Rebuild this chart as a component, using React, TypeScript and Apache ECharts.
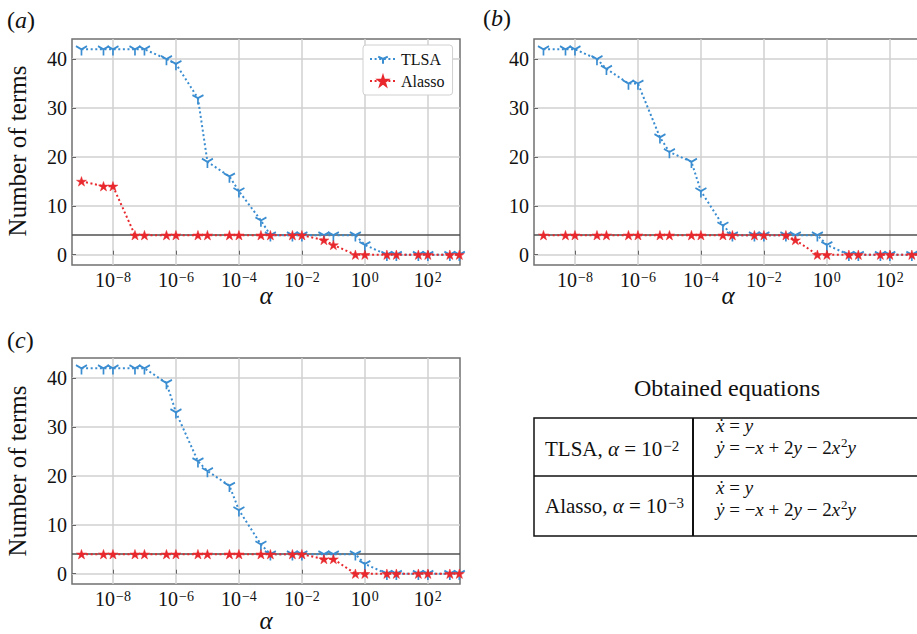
import React, { useEffect, useRef } from 'react';
import * as echarts from 'echarts';

// ---------------- data ----------------
const alphaValues = [
  1e-9, 5e-9, 1e-8, 5e-8, 1e-7, 5e-7, 1e-6, 5e-6, 1e-5, 5e-5, 1e-4, 5e-4, 1e-3,
  5e-3, 1e-2, 5e-2, 1e-1, 5e-1, 1, 5, 10, 50, 100, 500, 1000,
];
const tlsaA = [42, 42, 42, 42, 42, 40, 39, 32, 19, 16, 13, 7, 4, 4, 4, 4, 4, 4, 2, 0, 0, 0, 0, 0, 0];
const alassoA = [15, 14, 14, 4, 4, 4, 4, 4, 4, 4, 4, 4, 4, 4, 4, 3, 2, 0, 0, 0, 0, 0, 0, 0, 0];
const tlsaB = [42, 42, 42, 40, 38, 35, 35, 24, 21, 19, 13, 6, 4, 4, 4, 4, 4, 4, 2, 0, 0, 0, 0, 0, 0];
const alassoB = [4, 4, 4, 4, 4, 4, 4, 4, 4, 4, 4, 4, 4, 4, 4, 4, 3, 0, 0, 0, 0, 0, 0, 0, 0];
const tlsaC = [42, 42, 42, 42, 42, 39, 33, 23, 21, 18, 13, 6, 4, 4, 4, 4, 4, 4, 2, 0, 0, 0, 0, 0, 0];
const alassoC = [4, 4, 4, 4, 4, 4, 4, 4, 4, 4, 4, 4, 4, 4, 4, 3, 3, 0, 0, 0, 0, 0, 0, 0, 0];

const yTickValues = [0, 10, 20, 30, 40];
const xTickValues = [1e-8, 1e-6, 1e-4, 1e-2, 1, 100];
const referenceTerms = 4;
const seriesNames = ['TLSA', 'Alasso'];
const panelLetters = ['a', 'b', 'c'];
const yAxisTitle = 'Number of terms';
const xAxisTitle = 'α';
const tableTitle = 'Obtained equations';
const tableMethods = ['TLSA', 'Alasso'];
const tableExponents = ['−2', '−3'];

// ---------------- styles ----------------
const FONT = "'Liberation Serif', 'Times New Roman', serif";
const BLUE = '#3a8dd0';
const RED = '#e8282d';
const TRI = 'path://M0,-10 M0,0 L0,10 M0,0 L-8.66,-5 M0,0 L8.66,-5';
const STAR =
  'path://M0,-10 L2.245,-3.09 L9.511,-3.09 L3.633,1.18 L5.878,8.09 L0,3.82 L-5.878,8.09 L-3.633,1.18 L-9.511,-3.09 L-2.245,-3.09 Z';

const X_MIN = 5e-10;
const X_MAX = 1050;
const Y_MIN = -2.1;
const Y_MAX = 44.1;

const gridBoxes = [
  { left: 72, top: 39, width: 388, height: 226 },
  { left: 534, top: 39, width: 388, height: 226 },
  { left: 72, top: 358, width: 388, height: 226 },
];

function expLabel(v: number) {
  const e = Math.round(Math.log10(v));
  const s = e < 0 ? '−' + Math.abs(e) : String(e);
  return '10{sup|' + s + '}';
}

function makeXAxis(i: number) {
  return {
    type: 'log',
    logBase: 10,
    gridIndex: i,
    min: X_MIN,
    max: X_MAX,
    axisLine: { show: false },
    axisTick: {
      show: true,
      inside: true,
      length: 4,
      customValues: xTickValues,
      lineStyle: { color: '#666', width: 1 },
    },
    minorTick: { show: false },
    axisLabel: {
      customValues: xTickValues,
      formatter: expLabel,
      margin: 5,
      color: '#111',
      fontFamily: FONT,
      fontSize: 20,
      rich: {
        sup: { fontFamily: FONT, fontSize: 14, color: '#111', verticalAlign: 'top', padding: [0, 0, 4, 1] },
      },
    },
    splitLine: { show: true, lineStyle: { color: '#d0d0d0', width: 1.5 } },
  };
}

function makeYAxis(i: number) {
  return {
    type: 'value',
    gridIndex: i,
    min: Y_MIN,
    max: Y_MAX,
    axisLine: { show: false },
    axisTick: {
      show: true,
      inside: true,
      length: 4,
      customValues: yTickValues,
      lineStyle: { color: '#666', width: 1 },
    },
    axisLabel: {
      customValues: yTickValues,
      margin: 5,
      color: '#111',
      fontFamily: FONT,
      fontSize: 20,
    },
    splitLine: { show: true, lineStyle: { color: '#d0d0d0', width: 1.5 } },
  };
}

function makeSeries(i: number, tlsa: number[], alasso: number[]) {
  return [
    {
      type: 'line',
      name: seriesNames[0],
      xAxisIndex: i,
      yAxisIndex: i,
      data: alphaValues.map((a, k) => [a, tlsa[k]]),
      symbol: TRI,
      symbolSize: [11, 12.5],
      showSymbol: true,
      z: 3,
      emphasis: { disabled: true },
      itemStyle: { color: BLUE, borderColor: BLUE, borderWidth: 1.8 },
      lineStyle: { color: BLUE, width: 2, type: [2, 2.6] },
      markLine: {
        silent: true,
        symbol: 'none',
        z: 2,
        label: { show: false },
        lineStyle: { color: '#505050', width: 1.5, type: 'solid' },
        data: [{ yAxis: referenceTerms }],
      },
    },
    {
      type: 'line',
      name: seriesNames[1],
      xAxisIndex: i,
      yAxisIndex: i,
      data: alphaValues.map((a, k) => [a, alasso[k]]),
      symbol: STAR,
      symbolSize: [10, 9.5],
      showSymbol: true,
      z: 4,
      emphasis: { disabled: true },
      itemStyle: { color: RED, borderColor: RED, borderWidth: 0.5 },
      lineStyle: { color: RED, width: 2, type: [2, 2.6] },
    },
  ];
}

const richBase = (size: number, lh?: number) => ({
  n: { fontFamily: FONT, fontSize: size, fill: '#111', lineHeight: lh },
  i: { fontFamily: FONT, fontSize: size, fontStyle: 'italic', fill: '#111', lineHeight: lh },
  s: { fontFamily: FONT, fontSize: Math.round(size * 0.7), fill: '#111', verticalAlign: 'top', padding: [0, 0, 4, 1] },
});

function buildGraphics() {
  const g: any[] = [];
  const labelPos = [
    [7, 20],
    [483, 18],
    [7, 340],
  ];
  panelLetters.forEach((l, k) => {
    g.push({
      type: 'text',
      x: labelPos[k][0],
      y: labelPos[k][1],
      style: { text: '{n|(}{i|' + l + '}{n|)}', rich: richBase(24), align: 'left', verticalAlign: 'middle' },
    });
  });
  // y axis titles
  [
    [17, 151],
    [17, 471],
  ].forEach((p) => {
    g.push({
      type: 'text',
      x: p[0],
      y: p[1],
      rotation: Math.PI / 2,
      style: { text: yAxisTitle, font: '25px ' + FONT, fill: '#111', align: 'center', verticalAlign: 'middle' },
    });
  });
  // x axis titles
  [
    [266, 295],
    [728, 295],
    [266, 620],
  ].forEach((p) => {
    g.push({
      type: 'text',
      x: p[0],
      y: p[1],
      style: { text: xAxisTitle, font: 'italic 25px ' + FONT, fill: '#111', align: 'center', verticalAlign: 'middle' },
    });
  });
  // table
  g.push({
    type: 'text',
    x: 727,
    y: 388,
    style: { text: tableTitle, font: '24px ' + FONT, fill: '#111', align: 'center', verticalAlign: 'middle' },
  });
  g.push({
    type: 'rect',
    shape: { x: 534, y: 418, width: 420, height: 118 },
    style: { fill: 'none', stroke: '#111', lineWidth: 1.5 },
  });
  g.push({ type: 'line', shape: { x1: 693, y1: 418, x2: 693, y2: 536 }, style: { stroke: '#111', lineWidth: 2 } });
  g.push({ type: 'line', shape: { x1: 534, y1: 476, x2: 940, y2: 476 }, style: { stroke: '#111', lineWidth: 1.5 } });
  const rowMid = [449, 506];
  const eqMid = [436, 498];
  tableMethods.forEach((m, k) => {
    g.push({
      type: 'text',
      x: 545,
      y: rowMid[k],
      style: {
        text: '{n|' + m + ', }{i|α}{n| = 10}{s|' + tableExponents[k] + '}',
        rich: richBase(21),
        align: 'left',
        verticalAlign: 'middle',
      },
    });
    g.push({
      type: 'text',
      x: 716,
      y: eqMid[k],
      style: {
        text:
          '{i|ẋ}{n| = }{i|y}\n' +
          '{i|ẏ}{n| = −}{i|x}{n| + 2}{i|y}{n| − 2}{i|x}{s|2}{i|y}',
        rich: richBase(19, 22),
        align: 'left',
        verticalAlign: 'middle',
      },
    });
  });
  return g;
}

export default function App() {
  const ref = useRef<HTMLDivElement>(null);
  useEffect(() => {
    if (!ref.current) return;
    const chart = echarts.init(ref.current, null, { renderer: 'svg' });
    chart.setOption({
      animation: false,
      backgroundColor: '#fff',
      grid: gridBoxes.map((b) => ({
        ...b,
        show: true,
        borderColor: '#707070',
        borderWidth: 1.5,
        backgroundColor: 'transparent',
        containLabel: false,
      })),
      xAxis: [0, 1, 2].map(makeXAxis),
      yAxis: [0, 1, 2].map(makeYAxis),
      legend: {
        show: true,
        data: seriesNames,
        orient: 'vertical',
        left: 363,
        top: 45,
        itemWidth: 26,
        itemHeight: 12,
        itemGap: 6,
        padding: [6, 8, 6, 6],
        backgroundColor: '#fff',
        borderColor: '#d0d0d0',
        borderWidth: 1,
        borderRadius: 3,
        selectedMode: false,
        textStyle: { fontFamily: FONT, fontSize: 16, color: '#111' },
      },
      series: [
        ...makeSeries(0, tlsaA, alassoA),
        ...makeSeries(1, tlsaB, alassoB),
        ...makeSeries(2, tlsaC, alassoC),
      ],
      graphic: buildGraphics(),
    });
    return () => chart.dispose();
  }, []);
  return (
    <div style={{ position: 'fixed', left: 0, top: 0, width: 917, height: 634, overflow: 'hidden', background: '#fff' }}>
      <div ref={ref} style={{ width: 960, height: 634 }} />
    </div>
  );
}
